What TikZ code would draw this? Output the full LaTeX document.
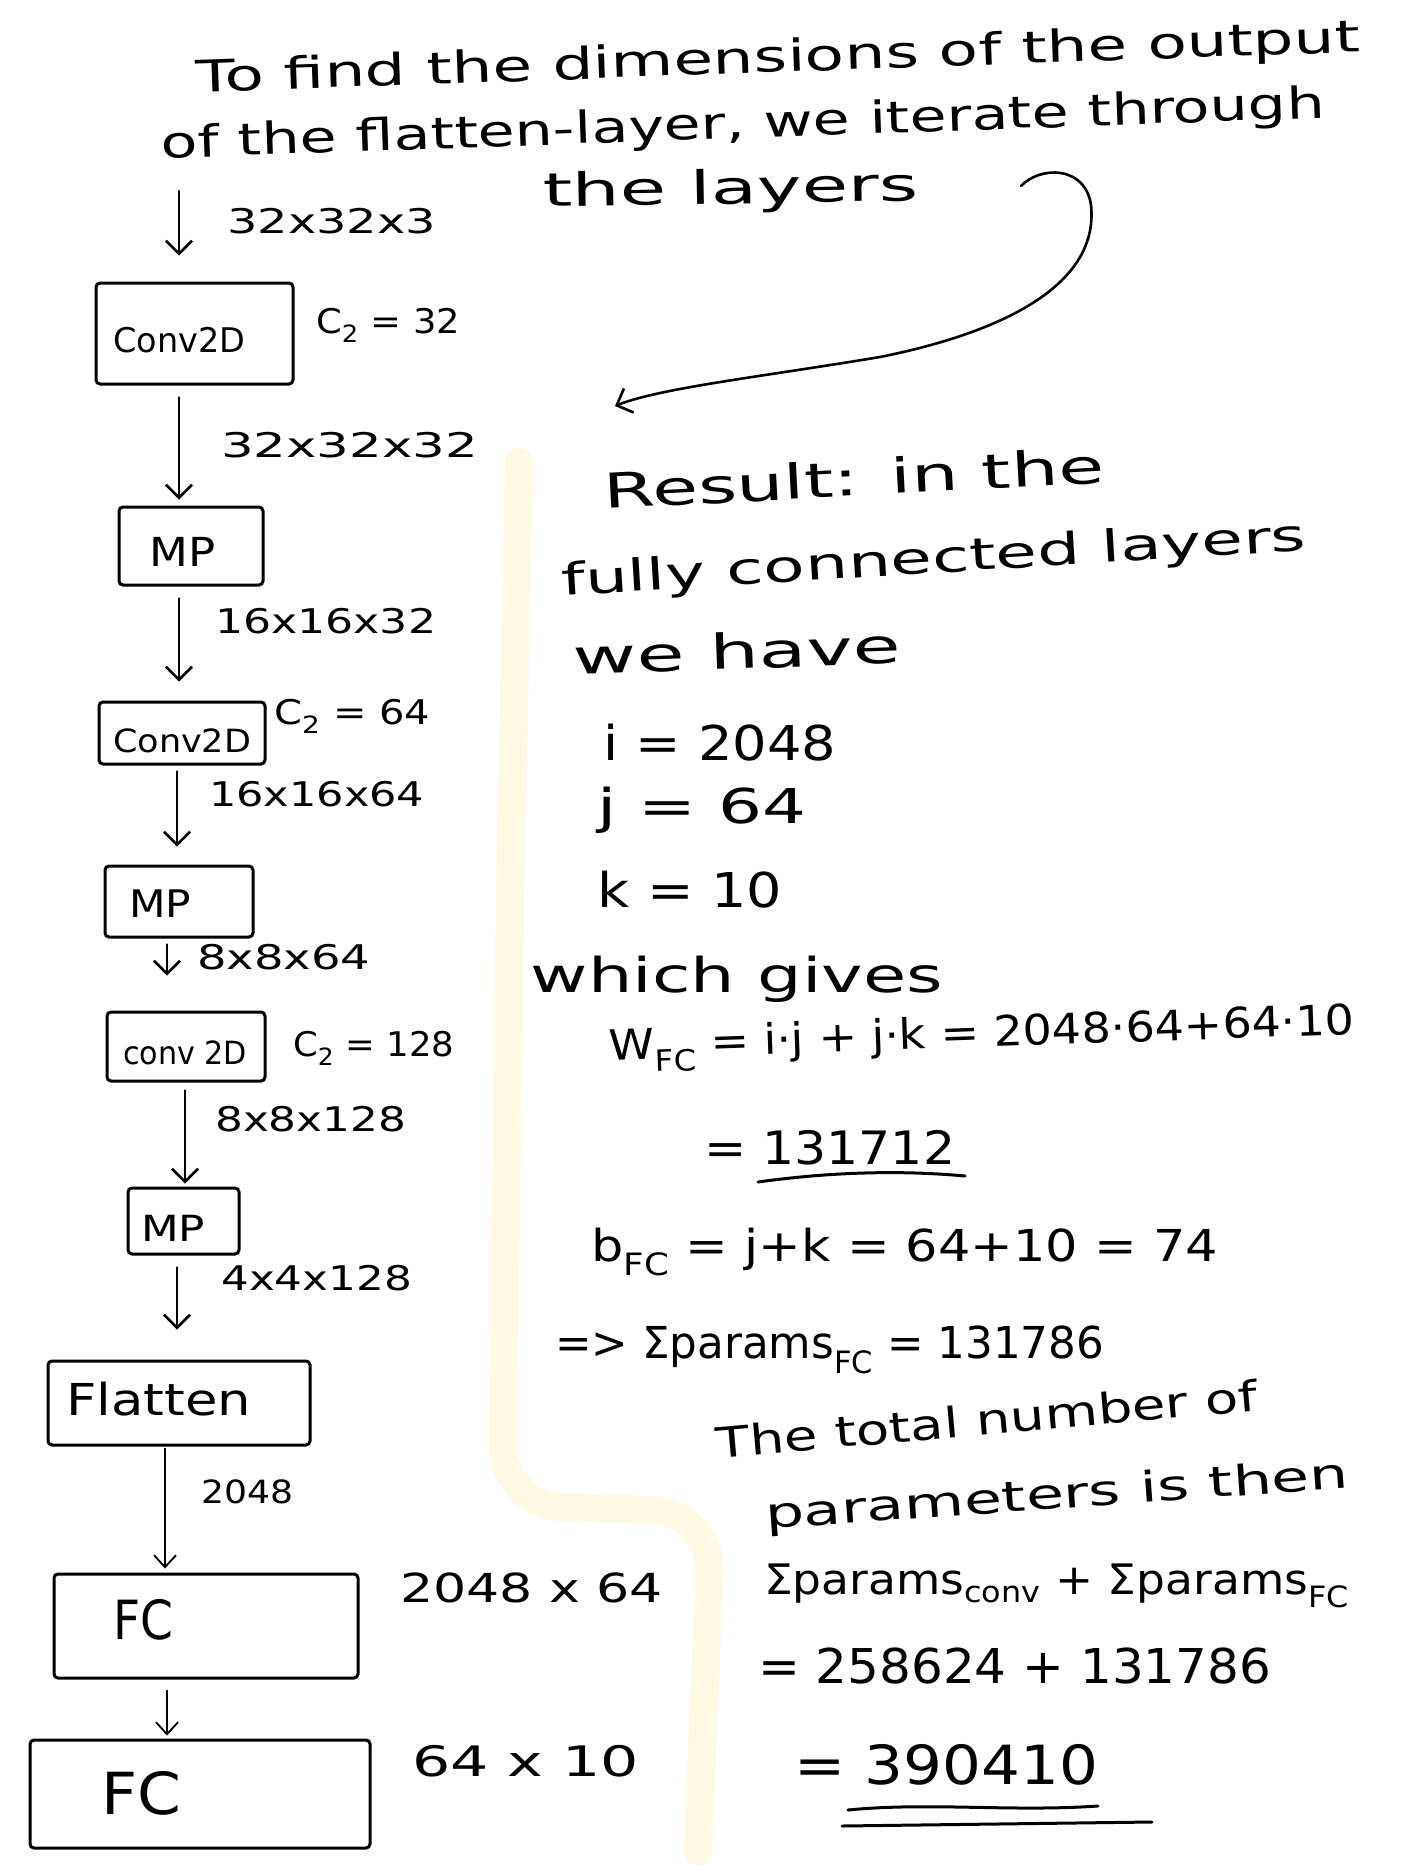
\documentclass[tikz,border=0pt]{standalone}
\usepackage{graphicx}
\usepackage{fontspec}
\setmainfont{DejaVu Sans}
\usetikzlibrary{arrows.meta}
\definecolor{ink}{RGB}{0,0,0}
\definecolor{divider}{RGB}{255,248,226}
\newcommand\hwr[3]{{\fontsize{#1}{#1}\selectfont\resizebox{#2}{\height}{#3}}}
\begin{document}
\begin{tikzpicture}[x=1pt,y=-1pt,
  box/.style={draw=ink,line width=3pt,rounded corners=4pt,inner sep=0pt},
  txt/.style={inner sep=0pt,text=ink},
  arr/.style={draw=ink,line width=2.6pt,line cap=round,-{Straight Barb[length=13pt,width=26pt,line width=2.6pt]}},
  thinarr/.style={draw=ink,line width=1.8pt,line cap=round,-{Straight Barb[length=12pt,width=22pt,line width=1.8pt]}},
  uline/.style={draw=ink,line width=3pt,line cap=round}]
\useasboundingbox (0,0) rectangle (1404,1872);
\fill[white] (0,0) rectangle (1404,1872);

% faint divider
\draw[divider,line width=28pt,line cap=round,rounded corners=60pt]
  (519,462) -- (510,900) -- (502,1505) -- (712,1512) -- (698,1851);

% title
\node[txt,rotate=2] (t1) at (778,60) {\hwr{44}{1164pt}{To find the dimensions of the output}};
\node[txt,rotate=2] (t2) at (743,126) {\hwr{44}{1164pt}{of the flatten-layer, we iterate through}};
\node[txt,rotate=1] (t3) at (731,191) {\hwr{46}{376pt}{the layers}};

% curved arrow
\coordinate (cs) at (1021,186);
\coordinate (ce) at (615,406);
\draw[arr] (cs) .. controls (1040,166) and (1085,165) .. (1091,205)
  .. controls (1100,290) and (990,335) .. (880,357)
  .. controls (760,377) and (660,388) .. (ce);

% boxes
\node[box,minimum width=197pt,minimum height=101pt] (b1) at (194.5,333.5) {};
\node[box,minimum width=144pt,minimum height=78pt] (mp1) at (191,546) {};
\node[box,minimum width=166pt,minimum height=62pt] (c2) at (182,733) {};
\node[box,minimum width=148pt,minimum height=71pt] (mp2) at (179,901.5) {};
\node[box,minimum width=158pt,minimum height=69pt] (c3) at (186,1046.5) {};
\node[box,minimum width=111pt,minimum height=66pt] (mp3) at (183.5,1221) {};
\node[box,minimum width=262pt,minimum height=84pt] (fl) at (179,1403) {};
\node[box,minimum width=304pt,minimum height=104pt] (fc1) at (206,1626) {};
\node[box,minimum width=340pt,minimum height=108pt] (fc2) at (200,1794) {};

% box texts
\node[txt,anchor=west] (b1t) at (113,340) {\hwr{34}{132pt}{Conv2D}};
\node[txt,anchor=west] (mp1t) at (149,552) {\hwr{40}{66pt}{MP}};
\node[txt,anchor=west] (c2t) at (113,741) {\hwr{32}{138pt}{Conv2D}};
\node[txt,anchor=west] (mp2t) at (129,904) {\hwr{38}{62pt}{MP}};
\node[txt,anchor=west] (c3t) at (123,1053) {\hwr{32}{124pt}{conv 2D}};
\node[txt,anchor=west] (mp3t) at (141,1228) {\hwr{36}{64pt}{MP}};
\node[txt,anchor=west] (flt) at (66,1399) {\hwr{44}{185pt}{Flatten}};
\node[txt,anchor=west] (fc1t) at (113,1620) {\hwr{54}{60pt}{FC}};
\node[txt,anchor=west] (fc2t) at (101,1793) {\hwr{58}{80pt}{FC}};

% column coordinates
\coordinate (in0) at (179,191);
\coordinate (k1) at (179,0);
\coordinate (k2) at (177,0);
\coordinate (k3) at (167,0);
\coordinate (k4) at (185,0);
\coordinate (k5) at (165,0);

% arrows
\draw[arr,shorten >=26pt] (in0) -- (b1.north -| in0);
\draw[arr,shorten <=12pt,shorten >=6pt] (b1.south -| k1) -- (mp1.north -| k1);
\draw[arr,shorten <=12pt,shorten >=19pt] (mp1.south -| k1) -- (c2.north -| k1);
\draw[arr,shorten <=6pt,shorten >=18pt] (c2.south -| k2) -- (mp2.north -| k2);
\draw[arr,shorten <=6pt,shorten >=35pt] (mp2.south -| k3) -- (c3.north -| k3);
\draw[arr,shorten <=8pt,shorten >=3pt] (c3.south -| k4) -- (mp3.north -| k4);
\draw[arr,shorten <=12pt,shorten >=30pt] (mp3.south -| k2) -- (fl.north -| k2);
\draw[thinarr,shorten <=2pt,shorten >=4pt] (fl.south -| k5) -- (fc1.north -| k5);
\draw[thinarr,shorten <=11pt,shorten >=3pt] (fc1.south -| k3) -- (fc2.north -| k3);

% left labels
\node[txt,anchor=west] (l0) at (227,221) {\hwr{34}{209pt}{32x32x3}};
\node[txt,anchor=west] (l1) at (316,325) {\hwr{34}{144pt}{C\textsubscript{2} = 32}};
\node[txt,anchor=west] (l2) at (221,445) {\hwr{34}{257pt}{32x32x32}};
\node[txt,anchor=west] (l3) at (215,621) {\hwr{34}{221pt}{16x16x32}};
\node[txt,anchor=west] (l4) at (274,716) {\hwr{34}{156pt}{C\textsubscript{2} = 64}};
\node[txt,anchor=west] (l5) at (209,794) {\hwr{34}{215pt}{16x16x64}};
\node[txt,anchor=west] (l6) at (197,957) {\hwr{34}{173pt}{8x8x64}};
\node[txt,anchor=west] (l7) at (293,1048) {\hwr{34}{161pt}{C\textsubscript{2} = 128}};
\node[txt,anchor=west] (l8) at (215,1119) {\hwr{34}{191pt}{8x8x128}};
\node[txt,anchor=west] (l9) at (221,1278) {\hwr{34}{191pt}{4x4x128}};
\node[txt,anchor=west] (l10) at (201,1492) {\hwr{32}{92pt}{2048}};
\node[txt,anchor=west] (l11) at (400,1588) {\hwr{40}{263pt}{2048 x 64}};
\node[txt,anchor=west] (l12) at (412,1761) {\hwr{42}{227pt}{64 x 10}};

% right side
\node[txt,rotate=3] (r1) at (854,478) {\hwr{48}{501pt}{Result: in the}};
\node[txt,rotate=3.5] (r2) at (934,561) {\hwr{44}{746pt}{fully connected layers}};
\node[txt,rotate=2] (r3) at (737,651) {\hwr{48}{328pt}{we have}};
\node[txt,anchor=west] (r4) at (603,743) {\hwr{48}{233pt}{i = 2048}};
\node[txt,anchor=west] (r5) at (597,810) {\hwr{48}{209pt}{j = 64}};
\node[txt,anchor=west] (r6) at (597,890) {\hwr{48}{185pt}{k = 10}};
\node[txt] (r7) at (737,979) {\hwr{48}{412pt}{which gives}};
\node[txt,anchor=west,rotate=2] (r8) at (609,1051) {\hwr{42}{746pt}{W\textsubscript{FC} = i·j + j·k = 2048·64+64·10}};
\node[txt,anchor=west] (r9) at (704,1148) {\hwr{46}{251pt}{= 131712}};
\node[txt,anchor=west] (r10) at (591,1252) {\hwr{44}{627pt}{b\textsubscript{FC} = j+k = 64+10 = 74}};
\node[txt,anchor=west] (r11) at (555,1350) {\hwr{44}{549pt}{=> Σparams\textsubscript{FC} = 131786}};
\node[txt,rotate=5] (r12) at (987,1419) {\hwr{42}{543pt}{The total number of}};
\node[txt,rotate=4] (r13) at (1057,1497) {\hwr{42}{585pt}{parameters is then}};
\node[txt,anchor=west] (r14) at (764,1586) {\hwr{42}{585pt}{Σparams\textsubscript{conv} + Σparams\textsubscript{FC}}};
\node[txt,anchor=west] (r15) at (758,1666) {\hwr{48}{513pt}{= 258624 + 131786}};
\node[txt,anchor=west] (r16) at (794,1765) {\hwr{54}{304pt}{= 390410}};

% underlines
\coordinate (u1a) at (758,1182); \coordinate (u1b) at (965,1176);
\draw[uline] (u1a) .. controls (830,1172) and (900,1170) .. (u1b);
\coordinate (u2a) at (848,1810); \coordinate (u2b) at (1098,1806);
\draw[uline] (u2a) .. controls (930,1802) and (1010,1812) .. (u2b);
\coordinate (u3a) at (842,1826); \coordinate (u3b) at (1152,1822);
\draw[uline] (u3a) -- (u3b);
\end{tikzpicture}
\end{document}
